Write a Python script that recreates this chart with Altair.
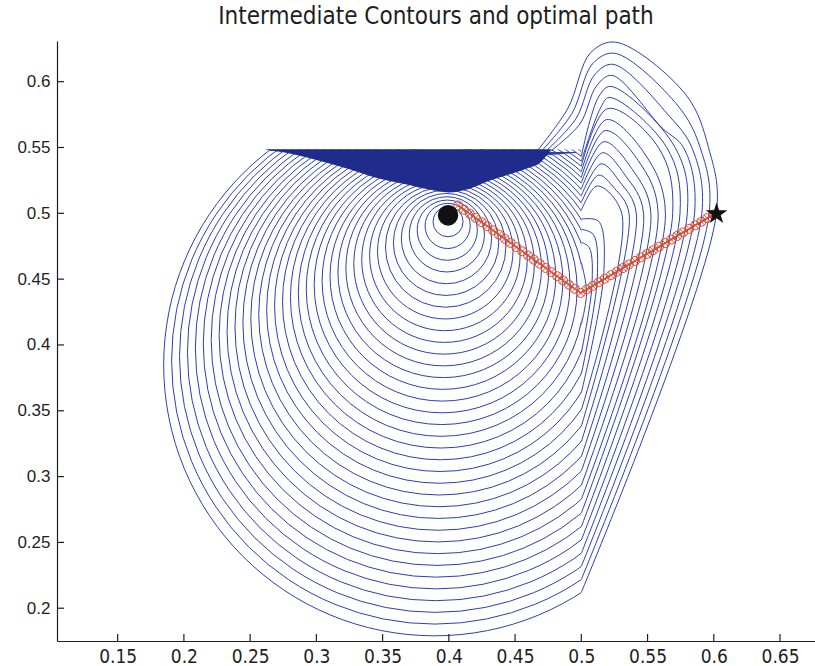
import altair as alt
import pandas as pd

TITLE = "Intermediate Contours and optimal path"
X_DOMAIN = [0.1042, 0.6764]
Y_DOMAIN = [0.1751, 0.6309]
X_TICKS = [0.15, 0.2, 0.25, 0.3, 0.35, 0.4, 0.45, 0.5, 0.55, 0.6, 0.65]
Y_TICKS = [0.2, 0.25, 0.3, 0.35, 0.4, 0.45, 0.5, 0.55, 0.6]

# contour body (lower / left part of each front), centre and radius per contour k=1..36
CX = [0.3997, 0.3994, 0.3991, 0.3988, 0.3985, 0.3982, 0.3979, 0.3976, 0.3973, 0.397,
      0.3967, 0.3964, 0.3961, 0.3958, 0.3955, 0.3952, 0.3949, 0.3946, 0.3943, 0.394,
      0.3937, 0.3934, 0.3931, 0.3928, 0.3925, 0.3922, 0.3919, 0.3916, 0.3913, 0.391,
      0.3907, 0.3904, 0.3901, 0.3898, 0.3895, 0.3892]
CY = [0.4968, 0.4936, 0.4904, 0.4872, 0.484, 0.4808, 0.4776, 0.4744, 0.4712, 0.468,
      0.4648, 0.4616, 0.4584, 0.4552, 0.452, 0.4488, 0.4456, 0.4424, 0.4392, 0.436,
      0.4328, 0.4296, 0.4264, 0.4232, 0.42, 0.4168, 0.4136, 0.4104, 0.4072, 0.404,
      0.4008, 0.3976, 0.3944, 0.3912, 0.388, 0.3848]
CR = [0.0057, 0.0114, 0.0171, 0.0228, 0.0285, 0.0342, 0.0399, 0.0456, 0.0513, 0.057,
      0.0627, 0.0684, 0.0741, 0.0798, 0.0855, 0.0912, 0.0969, 0.1026, 0.1083, 0.114,
      0.1197, 0.1254, 0.1311, 0.1368, 0.1425, 0.1482, 0.1539, 0.1596, 0.1653, 0.171,
      0.1767, 0.1824, 0.1881, 0.1938, 0.1995, 0.2052]

# blank areas (above the wall, right of x=0.5 where the fronts are redrawn)
COVER_X1 = [0.09, 0.5]
COVER_X2 = [0.5, 0.7]
COVER_Y1 = [0.5485, 0.1]
COVER_Y2 = [0.7, 0.7]

# fronts piled up along the wall, contours k=20..36
WALL_Y = [0.5414, 0.5418, 0.5422, 0.5426, 0.543, 0.5434, 0.5438, 0.5442, 0.5446,
          0.545, 0.5454, 0.5458, 0.5462, 0.5466, 0.547, 0.5474, 0.5478]
WALL_X1 = [0.3506, 0.3442, 0.3382, 0.3324, 0.3268, 0.3212, 0.3158, 0.3105, 0.3052,
           0.3, 0.2948, 0.2897, 0.2846, 0.2796, 0.2745, 0.2695, 0.2646]
WALL_X2 = [0.4374, 0.4432, 0.4486, 0.4538, 0.4588, 0.4638, 0.4686, 0.4733, 0.478,
           0.4826, 0.4872, 0.4917, 0.4962, 0.476, 0.473, 0.47, 0.467]

# dense (saturated) band of contours under the wall
BAND_X = [0.262, 0.28, 0.3, 0.325, 0.348, 0.37, 0.385, 0.4, 0.415, 0.43, 0.4485,
          0.46, 0.469, 0.477]
BAND_LO = [0.5482, 0.5455, 0.5405, 0.5335, 0.5262, 0.5215, 0.518, 0.5158, 0.5185,
           0.5245, 0.5305, 0.5345, 0.5385, 0.5482]
BAND_HI = [0.5486, 0.5486, 0.5486, 0.5486, 0.5486, 0.5486, 0.5486, 0.5486, 0.5486,
           0.5486, 0.5486, 0.5486, 0.5486, 0.5486]

# right-hand parts of contours k=19..36 (stations along each front)
RB_X = [0.5] * 18
RB_Y = [0.4156, 0.394, 0.3778, 0.3636, 0.3505, 0.3382, 0.3265, 0.3151, 0.3041,
        0.2933, 0.2827, 0.2722, 0.262, 0.2518, 0.2417, 0.2318, 0.2219, 0.2121]
MID_X = [0.504, 0.508, 0.512, 0.517, 0.5305, 0.536, 0.5415, 0.547, 0.5525,
         0.558, 0.5635, 0.569, 0.5745, 0.58, 0.5855, 0.591, 0.5965, 0.602]
MID_Y = [0.44, 0.445, 0.45, 0.455, 0.5, 0.5, 0.5, 0.5, 0.5,
         0.5, 0.5, 0.5, 0.5, 0.5, 0.5, 0.5, 0.5, 0.5]
P55_X = [None, None, None, None, None, None, None, None, None,
         None, None, 0.5582, 0.5645, 0.5708, 0.5771, 0.5834, 0.5897, 0.596]
P55_Y = [None, None, None, None, None, None, None, None, None,
         None, None, 0.55, 0.55, 0.55, 0.55, 0.55, 0.55, 0.55]
SH_X = [None, None, None, None, None, 0.525, 0.529, 0.533, 0.538,
        0.543, 0.548, None, None, None, 0.561, 0.567, 0.573, 0.579]
SH_Y = [None, None, None, None, None, 0.519, 0.524, 0.529, 0.534,
        0.54, 0.545, None, None, None, 0.5648, 0.5732, 0.5816, 0.59]
TOP_X = [None, 0.506, 0.509, 0.513, 0.512, 0.513, 0.515, 0.516, 0.517,
         0.518, 0.519, 0.52, 0.521, 0.522, 0.523, 0.524, 0.525, 0.526]
TOP_Y = [None, 0.474, 0.484, 0.494, 0.5208, 0.529, 0.5376, 0.546, 0.5544,
         0.5628, 0.5712, 0.5796, 0.588, 0.5964, 0.6048, 0.6132, 0.6216, 0.63]
TL_X = [None, None, None, None, None, None, None, None, None,
        None, None, None, 0.5145, 0.513, 0.5115, 0.51, 0.5085, 0.507]
TL_Y = [None, None, None, None, None, None, None, None, None,
        None, None, None, 0.58, 0.5884, 0.5968, 0.6052, 0.6136, 0.622]
LS_X = [None, None, None, None, None, None, None, None, None,
        None, None, None, None, None, 0.499, 0.496, 0.493, 0.49]
LS_Y = [None, None, None, None, None, None, None, None, None,
        None, None, None, None, None, 0.568, 0.572, 0.576, 0.58]
END_X = [0.5, 0.5, 0.5, 0.5, 0.5, 0.5, 0.5, 0.5, 0.5,
         0.5, 0.5, 0.5, 0.5, 0.5, 0.476, 0.473, 0.47, 0.467]
END_Y = [0.4628, 0.478, 0.4878, 0.4956, 0.5023, 0.5082, 0.5135, 0.5185, 0.5231,
         0.5275, 0.5317, 0.5358, 0.5396, 0.5434, 0.5466, 0.547, 0.5474, 0.5478]

# optimal path samples
PATH_X = [0.407, 0.4114, 0.4158, 0.4202, 0.4246, 0.429, 0.4334, 0.4378, 0.4422, 0.4466,
          0.451, 0.4554, 0.4598, 0.4642, 0.4686, 0.473, 0.4774, 0.4818, 0.4862, 0.4906,
          0.495, 0.4995, 0.5041, 0.5086, 0.5132, 0.5177, 0.5223, 0.5268, 0.5314, 0.5359,
          0.5405, 0.545, 0.5496, 0.5542, 0.5587, 0.5633, 0.5678, 0.5724, 0.5769, 0.5815,
          0.586, 0.5906, 0.5951, 0.5997]
PATH_Y = [0.506, 0.5028, 0.4997, 0.4965, 0.4933, 0.4902, 0.487, 0.4838, 0.4807, 0.4775,
          0.4743, 0.4712, 0.468, 0.4648, 0.4617, 0.4585, 0.4553, 0.4522, 0.449, 0.4458,
          0.4427, 0.4395, 0.4422, 0.4449, 0.4476, 0.4503, 0.453, 0.4557, 0.4584, 0.4611,
          0.4638, 0.4665, 0.4692, 0.4719, 0.4746, 0.4774, 0.4801, 0.4828, 0.4855, 0.4882,
          0.4909, 0.4936, 0.4963, 0.499]

START = [0.3994, 0.4985]
GOAL = [0.6021, 0.4996]

BLUE = "#2b3fb5"
BAND_BLUE = "#1f2c8c"
RED = "#dc4a2a"
INK = "#1e1e1e"
NARROW = "Liberation Sans Narrow, Arial Narrow, DejaVu Sans Condensed, sans-serif"
REG = "Liberation Sans, Arial, sans-serif"

# ---------------------------------------------------------------- tables
circles = pd.DataFrame({"k": range(1, 37), "cx": CX, "cy": CY, "r": CR})
covers = pd.DataFrame({"x1": COVER_X1, "x2": COVER_X2, "y1": COVER_Y1, "y2": COVER_Y2})
walls = pd.DataFrame({"y": WALL_Y, "x1": WALL_X1, "x2": WALL_X2})
band = pd.DataFrame({"x": BAND_X, "lo": BAND_LO, "hi": BAND_HI})

rows = []
stations = [(RB_X, RB_Y), (MID_X, MID_Y), (P55_X, P55_Y), (SH_X, SH_Y),
            (TOP_X, TOP_Y), (TL_X, TL_Y), (LS_X, LS_Y), (END_X, END_Y)]
for i in range(18):
    for s, (xs_, ys_) in enumerate(stations):
        if xs_[i] is not None:
            rows.append({"k": 19 + i, "s": s, "x": xs_[i], "y": ys_[i]})
rights = pd.DataFrame(rows)

path = pd.DataFrame({"x": PATH_X, "y": PATH_Y, "i": range(len(PATH_X))})
ends = pd.DataFrame({"x": [START[0], GOAL[0]], "y": [START[1], GOAL[1]], "w": ["start", "goal"]})
xt = pd.DataFrame({"v": X_TICKS})
yt = pd.DataFrame({"v": Y_TICKS})

xs = alt.Scale(domain=X_DOMAIN, nice=False, zero=False)
ys = alt.Scale(domain=Y_DOMAIN, nice=False, zero=False)
xax = alt.Axis(values=X_TICKS, format="~g", ticks=False, grid=False, title=None,
               labelFont=NARROW, labelFontSize=19, labelColor=INK, labelPadding=6,
               domainColor=INK, domainWidth=1.2, zindex=1)
yax = alt.Axis(values=Y_TICKS, format="~g", ticks=False, grid=False, title=None,
               labelFont=REG, labelFontSize=17, labelColor=INK, labelPadding=7,
               domainColor=INK, domainWidth=1.2, zindex=1)


def X(f):
    return alt.X(f, type="quantitative", scale=xs, axis=xax)


def Y(f):
    return alt.Y(f, type="quantitative", scale=ys, axis=yax)


circ = alt.Chart(circles).mark_point(shape="circle", filled=False, stroke=BLUE,
                                     strokeWidth=1, opacity=1, clip=True).encode(
    x=X("cx"), y=Y("cy"),
    size=alt.Size("r:Q", scale=alt.Scale(type="pow", exponent=2, domain=[0, 0.25],
                                         range=[0, 660 ** 2]), legend=None))

cover = alt.Chart(covers).mark_rect(color="white", clip=True).encode(
    x=X("x1"), x2="x2", y=Y("y1"), y2="y2")

wall = alt.Chart(walls).mark_rule(color=BLUE, strokeWidth=1).encode(
    x=X("x1"), x2="x2", y=Y("y"))

right = alt.Chart(rights).mark_line(color=BLUE, strokeWidth=1, interpolate="catmull-rom",
                                    clip=True).encode(
    x=X("x"), y=Y("y"), detail="k:N", order="s:Q")

bandm = alt.Chart(band).mark_area(color=BAND_BLUE, opacity=1, interpolate="monotone").encode(
    x=X("x"), y=Y("lo"), y2="hi")

pline = alt.Chart(path).mark_line(color=RED, strokeWidth=1.5).encode(
    x=X("x"), y=Y("y"), order="i:Q")
pcirc = alt.Chart(path).mark_point(shape="circle", filled=False, stroke=RED,
                                   strokeWidth=1, size=81, opacity=1).encode(x=X("x"), y=Y("y"))
pcross = alt.Chart(path).mark_point(shape="M-1,-1L1,1M-1,1L1,-1", filled=False, stroke=RED,
                                    strokeWidth=1, size=49, opacity=1).encode(x=X("x"), y=Y("y"))

start = alt.Chart(ends[ends.w == "start"]).mark_point(shape="circle", filled=True,
                                                      color="#111111", size=420, opacity=1).encode(
    x=X("x"), y=Y("y"))
STAR = ("M0,-1L0.2245,-0.309L0.951,-0.309L0.3633,0.118L0.5878,0.809L0,0.382"
        "L-0.5878,0.809L-0.3633,0.118L-0.951,-0.309L-0.2245,-0.309Z")
goal = alt.Chart(ends[ends.w == "goal"]).mark_point(shape=STAR, filled=True,
                                                    color="#111111", size=520, opacity=1).encode(
    x=X("x"), y=Y("y"))

xticks = alt.Chart(xt).mark_rule(color=INK, strokeWidth=1.2).encode(
    x=X("v"), y=alt.value(600), y2=alt.value(593))
yticks = alt.Chart(yt).mark_rule(color=INK, strokeWidth=1.2).encode(
    y=Y("v"), x=alt.value(0), x2=alt.value(7))

chart = alt.layer(circ, cover, wall, right, bandm, pline, pcirc, pcross, start, goal,
                  xticks, yticks).properties(
    width=758, height=600,
    title=alt.TitleParams(TITLE, font=NARROW, fontSize=24, fontWeight="normal",
                          color=INK, anchor="middle", offset=12),
    autosize=alt.AutoSizeParams(type="none"),
    padding={"left": 57, "top": 41, "right": 0, "bottom": 25},
).configure_view(stroke=None).configure(background="white")

chart.save("out.html", embed_options={"renderer": "svg", "actions": False})
